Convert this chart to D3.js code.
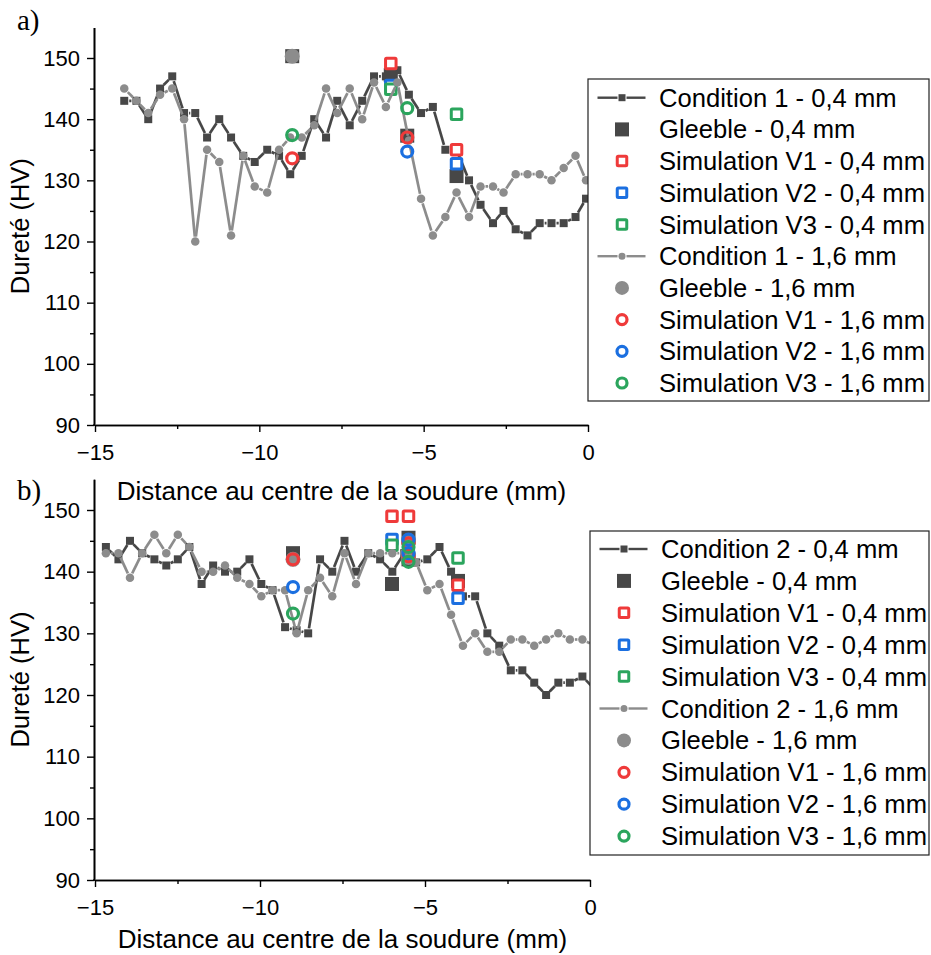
<!DOCTYPE html>
<html><head><meta charset="utf-8">
<script src="https://cdn.jsdelivr.net/npm/d3@7"></script>
<style>body{margin:0;background:#fff}svg{display:block}</style>
</head><body>
<svg id="c" width="931" height="955"></svg>
<script>
// ---------- DATA ----------
// Panel a) Condition 1
const topX = [-14.11,-13.74,-13.38,-13.02,-12.65,-12.29,-11.95,-11.59,-11.22,-10.86,-10.49,-10.14,-9.76,-9.4,-9.06,-8.71,-8.33,-7.97,-7.63,-7.25,-6.87,-6.51,-6.15,-5.8,-5.45,-5.08,-4.72,-4.34,-4.0,-3.62,-3.27,-2.89,-2.57,-2.2,-1.84,-1.47,-1.11,-0.74,-0.38,-0.06];
const topCond04 = [143,143,140,145,147,141,141,137,140,137,134,133,135,134,131,134,140,137,143,139,143,147,147,148,144,141,142,135,135,130,126,123,125,122,121,123,123,123,124,127];
const topCond16 = [145,143,141,144,145,140,120,135,133,121,134,129,128,135,137,137,139,145,141,145,140,146,142,146,136.5,127,121,124,128,124,129,129,128,131,131,131,130,132,134,130];
const topGleeble04 = [[-9,150.3],[-6,147.2],[-5.5,137.3],[-4,130.7]];
const topSimV1_04 = [[-6,149.1],[-4,135]];
const topSimV2_04 = [[-6,145.5],[-4,132.7]];
const topSimV3_04 = [[-6,144.9],[-4,140.8]];
const topGleeble16 = [[-9,150.3]];
const topSimV1_16 = [[-9,133.6],[-5.5,137]];
const topSimV2_16 = [[-5.5,134.7]];
const topSimV3_16 = [[-9,137.4],[-5.5,141.8]];

// Panel b) Condition 2
const botX = [-14.67,-14.29,-13.94,-13.57,-13.2,-12.84,-12.49,-12.14,-11.77,-11.42,-11.06,-10.69,-10.32,-9.96,-9.62,-9.24,-8.89,-8.54,-8.18,-7.81,-7.44,-7.09,-6.72,-6.36,-5.99,-5.63,-5.27,-4.93,-4.56,-4.21,-3.85,-3.48,-3.11,-2.75,-2.4,-2.05,-1.69,-1.33,-0.96,-0.61,-0.23,0.13];
const botCond04 = [144,142,145,143,142,141,142,144,138,141,140,140,142,138,137,131,130.5,130,142,140,145,140,143,142,140,143,141.5,142,144,140,136,136,130,128,124,124,122,120,122,122,123,121];
const botCond16 = [143,143,139,143,146,143,146,144,140,140,141,139,138,136,137,137,130,137,139,136,143,138,143,143,143,143,141.5,137,138,133,128,130,127,127,129,129,128,129,130,129,129,128];
const botGleeble04 = [[-9,143],[-6,138],[-5.5,145.5],[-5.5,142],[-4,138.5]];
const botSimV1_04 = [[-6,149],[-5.5,149],[-4,137.8]];
const botSimV2_04 = [[-6,145.2],[-4,135.7]];
const botSimV3_04 = [[-6,144.3],[-4,142.2]];
const botGleeble16 = [[-9,142],[-5.5,145],[-5.5,142.3]];
const botSimV1_16 = [[-9,142],[-5.5,144.6],[-5.5,142.5]];
const botSimV2_16 = [[-9,137.5],[-5.5,145.2],[-5.5,143]];
const botSimV3_16 = [[-9,133.2],[-5.5,144],[-5.5,141.6]];

const yTicks = [90,100,110,120,130,140,150];
const yMinor = [95,105,115,125,135,145];
const xTicks = [-15,-10,-5,0];
const xMinor = [-12.5,-7.5,-2.5];

const topLegend = ["Condition 1 - 0,4 mm","Gleeble - 0,4 mm","Simulation V1 - 0,4 mm","Simulation V2 - 0,4 mm","Simulation V3 - 0,4 mm","Condition 1 - 1,6 mm","Gleeble - 1,6 mm","Simulation V1 - 1,6 mm","Simulation V2 - 1,6 mm","Simulation V3 - 1,6 mm"];
const botLegend = ["Condition 2 - 0,4 mm","Gleeble - 0,4 mm","Simulation V1 - 0,4 mm","Simulation V2 - 0,4 mm","Simulation V3 - 0,4 mm","Condition 2 - 1,6 mm","Gleeble - 1,6 mm","Simulation V1 - 1,6 mm","Simulation V2 - 1,6 mm","Simulation V3 - 1,6 mm"];

// ---------- STYLE ----------
const DARK="#474747", GREY="#8c8c8c", RED="#ef3a3a", BLUE="#1b6fe0", GREEN="#2ba55d";
const FONT="'Liberation Sans', Arial, sans-serif";
const svg = d3.select("#c");

function marker(g, type, cx, cy, color, size){
  if(type==="sq") g.append("rect").attr("x",cx-size/2).attr("y",cy-size/2).attr("width",size).attr("height",size).attr("fill",color);
  else if(type==="ci") g.append("circle").attr("cx",cx).attr("cy",cy).attr("r",size/2).attr("fill",color);
  else if(type==="osq") g.append("rect").attr("x",cx-size/2).attr("y",cy-size/2).attr("width",size).attr("height",size).attr("fill","white").attr("stroke",color).attr("stroke-width",3).attr("rx",1);
  else if(type==="oci") g.append("circle").attr("cx",cx).attr("cy",cy).attr("r",size/2).attr("fill","none").attr("stroke",color).attr("stroke-width",3.2);
}
function gappedLine(g, pts, color, gap, w){
  for(let i=0;i<pts.length-1;i++){
    const [x1,y1]=pts[i],[x2,y2]=pts[i+1];
    const dx=x2-x1, dy=y2-y1, d=Math.hypot(dx,dy);
    if(d<=2*gap) continue;
    const ux=dx/d, uy=dy/d;
    g.append("line").attr("x1",x1+ux*gap).attr("y1",y1+uy*gap).attr("x2",x2-ux*gap).attr("y2",y2-uy*gap)
      .attr("stroke",color).attr("stroke-width",w);
  }
}

function panel(cfg){
  const x = d3.scaleLinear().domain([-15,0]).range([cfg.x0,cfg.x1]);
  const y = d3.scaleLinear().domain([90,155]).range([cfg.yb,cfg.yt]);
  const g = svg.append("g");
  const id = "clip"+cfg.name;
  svg.append("clipPath").attr("id",id).append("rect").attr("x",cfg.x0).attr("y",cfg.yt-10).attr("width",cfg.x1-cfg.x0).attr("height",cfg.yb-cfg.yt+10);

  // axes
  const ax = g.append("g").attr("font-family",FONT);
  ax.append("g").attr("transform",`translate(${cfg.x0-1},0)`)
    .call(d3.axisLeft(y).tickValues(yTicks).tickSize(7).tickSizeOuter(0).tickPadding(7));
  ax.append("g").attr("transform",`translate(${cfg.x0-1},0)`)
    .call(d3.axisLeft(y).tickValues(yMinor).tickSize(4).tickSizeOuter(0).tickFormat(""));
  ax.append("g").attr("transform",`translate(0,${cfg.yb})`)
    .call(d3.axisBottom(x).tickValues(xTicks).tickSize(7).tickSizeOuter(0).tickPadding(12).tickFormat(d3.format("d")));
  ax.append("g").attr("transform",`translate(0,${cfg.yb})`)
    .call(d3.axisBottom(x).tickValues(xMinor).tickSize(4).tickSizeOuter(0).tickFormat(""));
  ax.selectAll("path.domain").attr("stroke","#000").attr("stroke-width",1.6);
  ax.selectAll(".tick line").attr("stroke","#000").attr("stroke-width",1.4);
  ax.selectAll(".tick text").attr("font-size",22).attr("fill","#000").attr("font-family",FONT);
  ax.append("line").attr("x1",cfg.x0-1.8).attr("x2",cfg.x0).attr("y1",cfg.yb).attr("y2",cfg.yb).attr("stroke","#000").attr("stroke-width",1.6);

  // titles
  svg.append("text").attr("x",(cfg.x0+cfg.x1)/2).attr("y",cfg.xTitleY).attr("text-anchor","middle")
    .attr("font-family",FONT).attr("font-size",26).text("Distance au centre de la soudure (mm)");
  svg.append("text").attr("transform",`translate(29,${(cfg.yt+cfg.yb)/2}) rotate(-90)`).attr("text-anchor","middle")
    .attr("font-family",FONT).attr("font-size",25.5).text("Dureté (HV)");
  svg.append("text").attr("x",17).attr("y",cfg.labY).attr("font-family","'Liberation Serif','Times New Roman',serif")
    .attr("font-size",29).text(cfg.lab);

  // data
  const d = g.append("g");
  const c04 = cfg.xs.map((v,i)=>[x(v),y(cfg.c04[i])]);
  const c16 = cfg.xs.map((v,i)=>[x(v),y(cfg.c16[i])]);
  const inside = p => p[0] <= cfg.x1+0.5;
  const lines = d.append("g").attr("clip-path",`url(#${id})`);
  gappedLine(lines, c04, DARK, 5, 2.7);
  c04.filter(inside).forEach(p=>marker(d,"sq",p[0],p[1],DARK,8));
  cfg.g04.forEach(p=>marker(d,"sq",x(p[0]),y(p[1]),DARK,14));
  cfg.v1_04.forEach(p=>marker(d,"osq",x(p[0]),y(p[1]),RED,10.5));
  cfg.v2_04.forEach(p=>marker(d,"osq",x(p[0]),y(p[1]),BLUE,10.5));
  cfg.v3_04.forEach(p=>marker(d,"osq",x(p[0]),y(p[1]),GREEN,10.5));
  const lines2 = d.append("g").attr("clip-path",`url(#${id})`);
  gappedLine(lines2, c16, GREY, 5, 2.7);
  c16.filter(inside).forEach(p=>marker(d,"ci",p[0],p[1],GREY,8.5));
  cfg.g16.forEach(p=>marker(d,"ci",x(p[0]),y(p[1]),GREY,15));
  cfg.v1_16.forEach(p=>marker(d,"oci",x(p[0]),y(p[1]),RED,11));
  cfg.v2_16.forEach(p=>marker(d,"oci",x(p[0]),y(p[1]),BLUE,11));
  cfg.v3_16.forEach(p=>marker(d,"oci",x(p[0]),y(p[1]),GREEN,11));

  // legend
  const L = cfg.leg;
  const lg = svg.append("g");
  lg.append("rect").attr("x",L.x).attr("y",L.y).attr("width",L.w).attr("height",L.h)
    .attr("fill","white").attr("stroke","#222").attr("stroke-width",1.2);
  const types = [
    {t:"lsq",c:DARK},{t:"sq",c:DARK},{t:"osq",c:RED},{t:"osq",c:BLUE},{t:"osq",c:GREEN},
    {t:"lci",c:GREY},{t:"ci",c:GREY},{t:"oci",c:RED},{t:"oci",c:BLUE},{t:"oci",c:GREEN}];
  cfg.legText.forEach((txt,i)=>{
    const cy = L.r0 + i*L.dy, mx = L.x+34;
    const tp = types[i];
    if(tp.t==="lsq"){ gappedLine(lg,[[L.x+5,cy],[mx,cy],[L.x+62,cy]],tp.c,4.5,2.4); marker(lg,"sq",mx,cy,tp.c,7); }
    else if(tp.t==="lci"){ gappedLine(lg,[[L.x+5,cy],[mx,cy],[L.x+62,cy]],tp.c,4.5,2.4); marker(lg,"ci",mx,cy,tp.c,7); }
    else if(tp.t==="sq") marker(lg,"sq",mx,cy,tp.c,14);
    else if(tp.t==="ci") marker(lg,"ci",mx,cy,tp.c,14);
    else if(tp.t==="osq") marker(lg,"osq",mx,cy,tp.c,9.5);
    else marker(lg,"oci",mx,cy,tp.c,10);
    lg.append("text").attr("x",L.x+71).attr("y",cy+9).attr("font-family",FONT).attr("font-size",25.6).attr("fill","#000").text(txt);
  });
}

panel({name:"a", x0:95, x1:588, yt:425-65*367/60, yb:425, xTitleY:500, labY:30, lab:"a)",
  xs:topX, c04:topCond04, c16:topCond16, g04:topGleeble04, v1_04:topSimV1_04, v2_04:topSimV2_04, v3_04:topSimV3_04,
  g16:topGleeble16, v1_16:topSimV1_16, v2_16:topSimV2_16, v3_16:topSimV3_16,
  legText:topLegend, leg:{x:588, y:79, w:341, h:322, r0:97.7, dy:31.7}});
panel({name:"b", x0:95, x1:590, yt:880-65*370/60, yb:880, xTitleY:948, labY:500, lab:"b)",
  xs:botX, c04:botCond04, c16:botCond16, g04:botGleeble04, v1_04:botSimV1_04, v2_04:botSimV2_04, v3_04:botSimV3_04,
  g16:botGleeble16, v1_16:botSimV1_16, v2_16:botSimV2_16, v3_16:botSimV3_16,
  legText:botLegend, leg:{x:590, y:531, w:339, h:324, r0:549, dy:31.9}});
</script>
</body></html>
